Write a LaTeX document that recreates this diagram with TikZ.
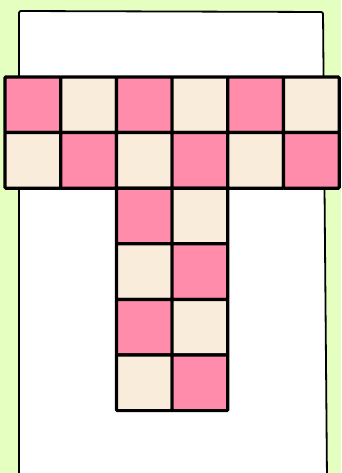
\documentclass[tikz,border=0pt]{standalone}
\definecolor{bggreen}{RGB}{228,255,192}
\definecolor{cellpink}{RGB}{255,140,170}
\definecolor{cellcream}{RGB}{250,236,218}
\tikzset{
  cell/.style={draw=black, line width=3.2pt, minimum width=55.7pt, minimum height=55.6pt, inner sep=0pt, outer sep=0pt, rounded corners=1pt},
  pinkcell/.style={cell, fill=cellpink},
  creamcell/.style={cell, fill=cellcream},
  sheet/.style={draw=black, fill=white, line width=1.8pt, rounded corners=2pt}
}
\begin{document}
\begin{tikzpicture}[x=1pt,y=-1pt]
\fill[bggreen] (0,0) rectangle (341,473);
\useasboundingbox (0,0) rectangle (341,473);
\draw[sheet] (19,480) -- (19,11) -- (323,12) -- (327,480);
% top two rows
\foreach \r in {0,1}{
  \foreach \c in {0,...,5}{
    \pgfmathtruncatemacro{\myparity}{mod(\r+\c,2)}
    \ifnum\myparity=0
      \node[pinkcell] (c\r\c) at ({5+55.7*\c+27.85},{77+55.6*\r+27.8}) {};
    \else
      \node[creamcell] (c\r\c) at ({5+55.7*\c+27.85},{77+55.6*\r+27.8}) {};
    \fi
  }
}
% stem
\foreach \r in {2,...,5}{
  \foreach \c in {2,3}{
    \pgfmathtruncatemacro{\myparity}{mod(\r+\c,2)}
    \ifnum\myparity=0
      \node[pinkcell] (c\r\c) at ({5+55.7*\c+27.85},{77+55.6*\r+27.8}) {};
    \else
      \node[creamcell] (c\r\c) at ({5+55.7*\c+27.85},{77+55.6*\r+27.8}) {};
    \fi
  }
}
\end{tikzpicture}
\end{document}
